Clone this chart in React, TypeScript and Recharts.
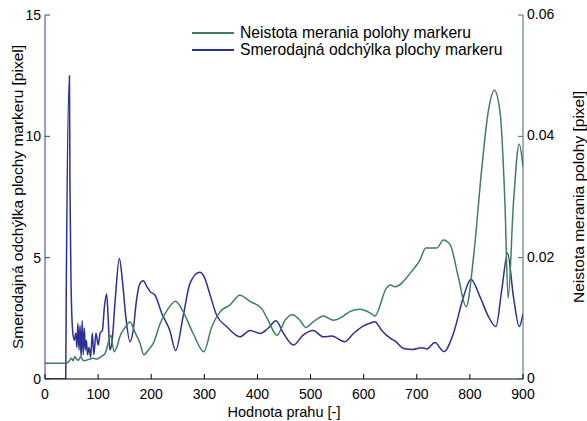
import React from 'react';
import { LineChart, Line, XAxis, YAxis, Legend } from 'recharts';

// Threshold values (x) and standard deviation of marker area [pixel] (left axis)
const blueX = [0, 39, 40, 46, 47, 49, 52, 55, 58, 60, 62, 64, 66, 68, 70, 72, 74, 76, 78, 80, 83, 86, 89, 92, 96, 100, 104, 108, 112, 116, 119, 122, 126, 132, 140, 146, 152, 160, 166, 172, 178, 185, 192, 198, 207, 220, 235, 246, 260, 273, 291, 300, 308, 323, 342, 367, 386, 405, 420, 435, 449, 468, 486, 505, 524, 540, 564, 581, 599, 612, 621, 634, 650, 659, 675, 693, 709, 719, 734, 751, 769, 788, 802, 819, 835, 849, 860, 871, 882, 893, 900];
const blueY = [0, 0, 3.5, 12.5, 8, 4, 2.0, 1.6, 1.9, 1.3, 2.3, 1.2, 2.2, 0.9, 2.4, 1.0, 2.1, 1.2, 1.6, 1.0, 1.3, 0.9, 1.9, 1.0, 1.9, 1.4, 1.9, 2.0, 3.0, 3.5, 2.5, 1.2, 1.5, 3.2, 4.97, 4.0, 2.6, 1.54, 2.0, 3.2, 3.9, 4.05, 3.8, 3.6, 3.46, 2.7, 2.0, 1.17, 2.57, 3.94, 4.4, 4.2, 3.67, 2.64, 2.16, 1.74, 2.0, 1.88, 2.09, 2.4, 1.88, 1.4, 1.81, 2.0, 1.74, 1.77, 1.54, 1.88, 2.18, 2.3, 2.36, 2.0, 1.68, 1.57, 1.26, 1.22, 1.29, 1.24, 1.5, 1.13, 1.88, 3.39, 4.11, 3.39, 2.57, 2.16, 3.67, 5.18, 3.39, 2.16, 2.7];

// Threshold values (x) and marker position uncertainty [pixel] (right axis)
const greenX = [0, 40, 44, 50, 53, 56, 60, 63, 66, 69, 73, 78, 85, 91, 98, 104, 113, 118, 124, 130, 135, 141, 150, 160, 170, 179, 186, 195, 204, 217, 232, 246, 260, 279, 299, 314, 330, 348, 367, 386, 408, 420, 437, 452, 466, 480, 491, 505, 524, 543, 555, 574, 593, 612, 621, 643, 650, 659, 690, 706, 717, 738, 750, 763, 778, 793, 807, 822, 835, 846, 857, 866, 872, 882, 893, 900];
const greenY = [0.0026, 0.0026, 0.0028, 0.0034, 0.0030, 0.0037, 0.0032, 0.0031, 0.0036, 0.0034, 0.0030, 0.0031, 0.0033, 0.0034, 0.0033, 0.0036, 0.0042, 0.0056, 0.0072, 0.0045, 0.0052, 0.0070, 0.0084, 0.0094, 0.0076, 0.0059, 0.0040, 0.0048, 0.0059, 0.0092, 0.0116, 0.0128, 0.0111, 0.0075, 0.0045, 0.0086, 0.0111, 0.0122, 0.0138, 0.0128, 0.0116, 0.0097, 0.0072, 0.0097, 0.0106, 0.0097, 0.0085, 0.0094, 0.0104, 0.0097, 0.0100, 0.0111, 0.0115, 0.0109, 0.0104, 0.0150, 0.0155, 0.0152, 0.0177, 0.0196, 0.0216, 0.0216, 0.0229, 0.0221, 0.0169, 0.0119, 0.0202, 0.0344, 0.0443, 0.0476, 0.0438, 0.0290, 0.0133, 0.0290, 0.0387, 0.0350];

const xTicks = [0, 100, 200, 300, 400, 500, 600, 700, 800, 900];
const leftTicks = [0, 5, 10, 15];
const rightTicks = [0, 0.02, 0.04, 0.06];

const legendLabels = ['Neistota merania polohy markeru', 'Smerodajná odchýlka plochy markeru'];
const xTitle = 'Hodnota prahu [-]';
const leftTitle = 'Smerodajná odchýlka plochy markeru [pixel]';
const rightTitle = 'Neistota merania polohy [pixel]';

const BLUE = '#2b2f96';
const GREEN = '#3f7f5c';
const LEFT_AXIS = '#3a3aa4';
const RIGHT_AXIS = '#3f6a66';
const FONT = '"Liberation Sans", Arial, Helvetica, sans-serif';

const blueData = blueX.map((x, i) => ({ x, v: blueY[i] }));
const greenData = greenX.map((x, i) => ({ x, v: greenY[i] }));

const W = 587;
const H = 421;
const PLOT_TOP = 15;
const PLOT_BOTTOM = 379;
const midY = (PLOT_TOP + PLOT_BOTTOM) / 2;

const BottomTick = (props: any) => {
  const { x, y, payload } = props;
  return (
    <g>
      <line x1={x} y1={y} x2={x} y2={y - 5} stroke="#000" strokeWidth={1} />
      <text x={x} y={y + 19.5} textAnchor="middle" fontSize={14} fontFamily={FONT} fill="#000">
        {payload.value}
      </text>
    </g>
  );
};

const LeftTick = (props: any) => {
  const { x, y, payload } = props;
  return (
    <g>
      <line x1={x} y1={y} x2={x + 5} y2={y} stroke={LEFT_AXIS} strokeWidth={1} />
      <text x={x - 4} y={y} dy="0.35em" textAnchor="end" fontSize={14} fontFamily={FONT} fill="#000">
        {payload.value}
      </text>
    </g>
  );
};

const RightTick = (props: any) => {
  const { x, y, payload } = props;
  return (
    <g>
      <line x1={x} y1={y} x2={x - 5} y2={y} stroke={RIGHT_AXIS} strokeWidth={1} />
      <text x={x + 4} y={y - 1} dy="0.35em" textAnchor="start" fontSize={14} fontFamily={FONT} fill="#000">
        {payload.value}
      </text>
    </g>
  );
};

const LeftTitle = () => (
  <text
    x={17}
    y={midY}
    transform={`rotate(-90 17 ${midY})`}
    textAnchor="middle"
    dominantBaseline="central"
    fontSize={15.5}
    fontFamily={FONT}
    fill="#000"
  >
    {leftTitle}
  </text>
);

const RightTitle = () => (
  <text
    x={578}
    y={midY}
    transform={`rotate(-90 578 ${midY})`}
    textAnchor="middle"
    dominantBaseline="central"
    fontSize={15.5}
    fontFamily={FONT}
    fill="#000"
  >
    {rightTitle}
  </text>
);

const BottomTitle = () => (
  <text x={284} y={417} textAnchor="middle" fontSize={14.5} fontFamily={FONT} fill="#000">
    {xTitle}
  </text>
);

const legendColors = [GREEN, BLUE];

const LegendBox = () => (
  <div style={{ fontFamily: FONT, fontSize: 15.7, color: '#000', lineHeight: '17px', background: 'transparent' }}>
    {legendLabels.map((label, i) => (
      <div key={label} style={{ display: 'flex', alignItems: 'center', height: 17, whiteSpace: 'nowrap' }}>
        <svg width={42} height={4} style={{ display: 'block' }}>
          <line x1={0} y1={2} x2={42} y2={2} stroke={legendColors[i]} strokeWidth={2} />
        </svg>
        <span style={{ marginLeft: 6 }}>{label}</span>
      </div>
    ))}
  </div>
);

export default function App() {
  return (
    <div style={{ position: 'absolute', left: 0, top: 0, width: W, height: H, background: '#fff' }}>
      <LineChart width={W} height={H} margin={{ top: PLOT_TOP, right: 0, bottom: 0, left: 0 }}>
        <XAxis
          type="number"
          dataKey="x"
          domain={[0, 900]}
          ticks={xTicks}
          height={42}
          stroke="#000"
          tickSize={0}
          tickMargin={0}
          tick={<BottomTick />}
          interval={0}
          allowDataOverflow
          label={<BottomTitle />}
        />
        <YAxis
          yAxisId="left"
          orientation="left"
          domain={[0, 15]}
          ticks={leftTicks}
          width={45}
          stroke={LEFT_AXIS}
          tickSize={0}
          tickMargin={0}
          tick={<LeftTick />}
          interval={0}
          allowDataOverflow
          label={<LeftTitle />}
        />
        <YAxis
          yAxisId="right"
          orientation="right"
          domain={[0, 0.06]}
          ticks={rightTicks}
          width={64}
          stroke={RIGHT_AXIS}
          tickSize={0}
          tickMargin={0}
          tick={<RightTick />}
          interval={0}
          allowDataOverflow
          label={<RightTitle />}
        />
        <Legend
          layout="vertical"
          align="center"
          verticalAlign="middle"
          content={<LegendBox />}
          wrapperStyle={{ top: 24, left: 192, width: 330 }}
        />
        <Line
          yAxisId="left"
          data={blueData}
          dataKey="v"
          type="monotone"
          stroke={BLUE}
          strokeWidth={1.5}
          dot={false}
          activeDot={false}
          isAnimationActive={false}
        />
        <Line
          yAxisId="right"
          data={greenData}
          dataKey="v"
          type="monotone"
          stroke={GREEN}
          strokeWidth={1.5}
          dot={false}
          activeDot={false}
          isAnimationActive={false}
        />
      </LineChart>
    </div>
  );
}
